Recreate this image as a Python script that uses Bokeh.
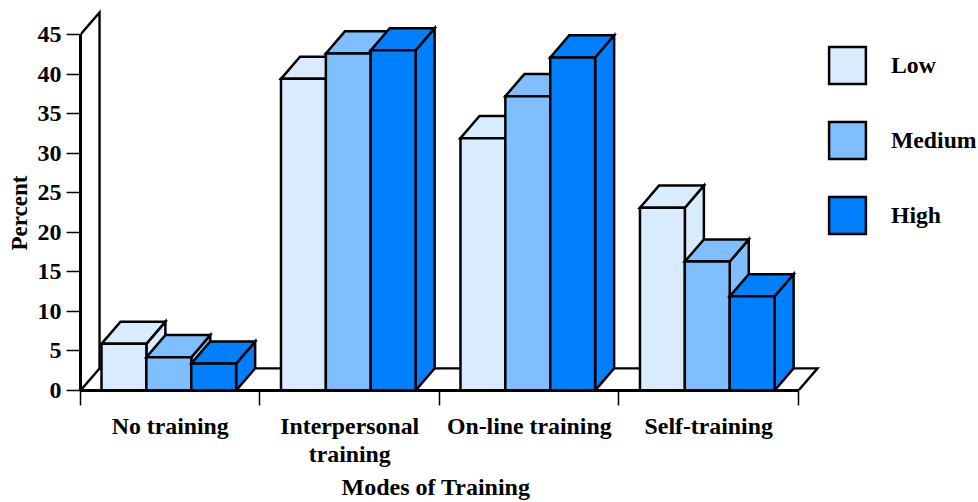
from bokeh.embed import file_html
from bokeh.models import FixedTicker, Legend, LegendItem, Range1d, Title
from bokeh.plotting import figure
from bokeh.resources import INLINE

categories = ["No training", "Interpersonal training", "On-line training", "Self-training"]
tick_labels = ["No training", "Interpersonal\ntraining", "On-line training", "Self-training"]
low = [5.9, 39.4, 31.9, 23.1]
medium = [4.2, 42.6, 37.2, 16.3]
high = [3.4, 43.0, 42.1, 11.9]
series = [("Low", low, "#D9ECFF"), ("Medium", medium, "#80BFFF"), ("High", high, "#0080FF")]
y_ticks = [0, 5, 10, 15, 20, 25, 30, 35, 40, 45]

FONT = "Liberation Serif"
BAR_WIDTH = 0.25
GROUP_INSET = 0.117
DEPTH_X = 0.106
DEPTH_Y = 2.8
N = len(categories)
Y_TOP = y_ticks[-1]

p = figure(frame_width=898, frame_height=390, output_backend="svg", toolbar_location=None,
           x_range=Range1d(0, 5.003), y_range=Range1d(0, 49.3),
           min_border=0, min_border_left=80, min_border_right=0, min_border_top=0, min_border_bottom=112,
           background_fill_color="white", outline_line_color=None)
p.grid.visible = False

# Open wall and floor of the pseudo-3D box
wall_x = [[0, DEPTH_X, DEPTH_X], [0, DEPTH_X, N + DEPTH_X, N]]
wall_y = [[Y_TOP, Y_TOP + DEPTH_Y, DEPTH_Y], [0, DEPTH_Y, DEPTH_Y, 0]]
p.multi_line(wall_x, wall_y, line_color="black", line_width=2.4, line_join="miter")

# Each series is drawn over the previous one: side and top faces first, then the front
items = []
for s, (name, values, colour) in enumerate(series):
    lefts = [i + GROUP_INSET + s * BAR_WIDTH for i in range(N)]
    rights = [x + BAR_WIDTH for x in lefts]
    sides_x = [[r, r + DEPTH_X, r + DEPTH_X, r] for r in rights]
    sides_y = [[0, DEPTH_Y, v + DEPTH_Y, v] for v in values]
    tops_x = [[l, l + DEPTH_X, r + DEPTH_X, r] for l, r in zip(lefts, rights)]
    tops_y = [[v, v + DEPTH_Y, v + DEPTH_Y, v] for v in values]
    p.patches(sides_x + tops_x, sides_y + tops_y, fill_color=colour, line_color="black",
              line_width=2.5, line_join="miter")
    front = p.quad(left=lefts, right=rights, bottom=[0] * N, top=values, fill_color=colour,
                   line_color="black", line_width=2.5, line_join="miter")
    items.append(LegendItem(label=name, renderers=[front]))

legend = Legend(items=items, location=(744, 152), orientation="vertical", padding=0, margin=0,
                glyph_width=46, glyph_height=46, spacing=29, label_standoff=21,
                label_text_font=FONT, label_text_font_style="bold", label_text_font_size="23.7px",
                label_text_color="black", border_line_color=None, background_fill_alpha=0)
p.add_layout(legend)

# Value axis
ya = p.yaxis[0]
ya.ticker = FixedTicker(ticks=y_ticks)
ya.bounds = (0, Y_TOP)
ya.major_label_text_font = FONT
ya.major_label_text_font_style = "bold"
ya.major_label_text_font_size = "24px"
ya.major_label_text_color = "black"
ya.major_label_standoff = 5
ya.major_tick_out = 14
ya.major_tick_in = 0
ya.major_tick_line_width = 1.5
ya.major_tick_line_color = "black"
ya.minor_tick_line_color = None
ya.axis_line_width = 3
ya.axis_line_color = "black"

# Category axis: labels sit at group centres, separators at group boundaries
centres = [i + 0.5 for i in range(N)]
xa = p.xaxis[0]
xa.ticker = FixedTicker(ticks=centres, minor_ticks=list(range(N + 1)))
xa.major_label_overrides = dict(zip(centres, tick_labels))
xa.bounds = (0, N)
xa.major_label_text_font = FONT
xa.major_label_text_font_style = "bold"
xa.major_label_text_font_size = "23.8px"
xa.major_label_text_color = "black"
xa.major_label_text_line_height = 1.1
xa.major_label_standoff = 7
xa.major_tick_out = 0
xa.major_tick_in = 0
xa.minor_tick_out = 15
xa.minor_tick_in = 0
xa.minor_tick_line_width = 1.5
xa.minor_tick_line_color = "black"
xa.axis_line_width = 3
xa.axis_line_color = "black"

# Axis titles are placed by offset so they centre on the drawn axes, not the wider frame
p.add_layout(Title(text="Percent", align="left", offset=140, standoff=6, text_font=FONT,
                   text_font_style="bold", text_font_size="23px", text_color="black"), "left")
p.add_layout(Title(text="Modes of Training", align="left", offset=261, standoff=2, text_font=FONT,
                   text_font_style="bold", text_font_size="24px", text_color="black"), "below")

open("out.html", "w").write(file_html(p, INLINE))
